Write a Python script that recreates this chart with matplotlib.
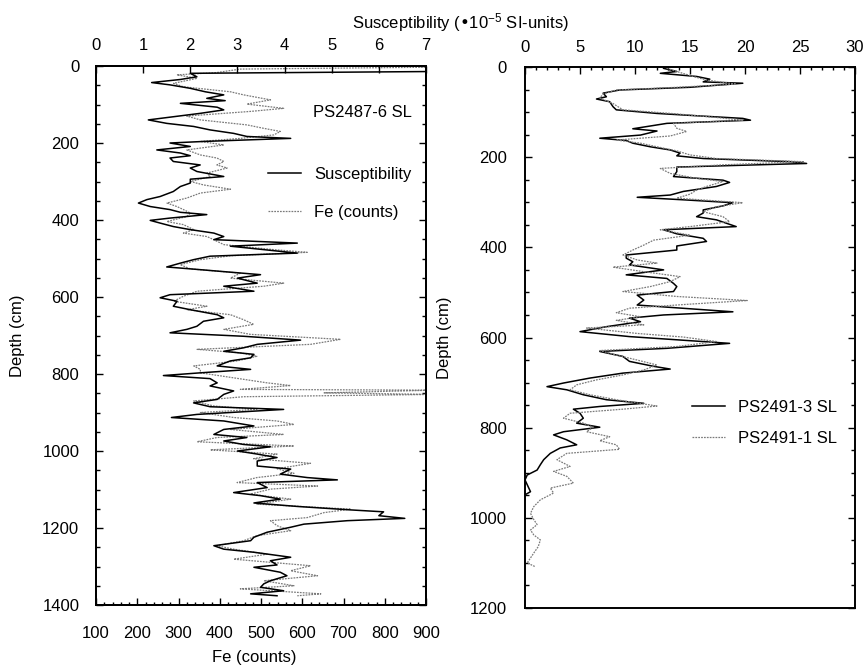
import matplotlib
matplotlib.use("Agg")
import matplotlib.pyplot as plt
from matplotlib.ticker import MultipleLocator

plt.rcParams['font.family'] = ['Liberation Sans', 'DejaVu Sans']
plt.rcParams['font.size'] = 12
plt.rcParams['mathtext.default'] = 'regular'

# ---- Core PS2487-6 SL: magnetic susceptibility (1e-5 SI) vs depth (cm)
sus_depth = [2, 14, 19, 28, 35, 43, 49, 58, 67, 75,
             84, 90, 97, 107, 114, 123, 133, 140, 149, 157,
             166, 175, 183, 188, 196, 200, 209, 218, 226, 233,
             239, 248, 257, 265, 274, 287, 294, 304, 313, 326,
             339, 347, 356, 365, 373, 380, 386, 395, 401, 408,
             417, 425, 434, 443, 451, 460, 468, 477, 486, 494,
             503, 512, 522, 529, 542, 551, 564, 572, 585, 594,
             602, 611, 624, 633, 646, 654, 663,
             676, 684, 693, 702, 712, 723, 732, 741, 749, 758,
             766, 779, 788, 797, 804, 812, 823, 831, 844, 853,
             866, 875, 885, 892, 905, 913, 922, 935, 944, 957,
             965, 974, 983, 989, 1000, 1008, 1017, 1026, 1039, 1047,
             1060, 1069, 1075, 1082, 1095, 1108, 1116, 1125, 1135, 1144,
             1153, 1158, 1168, 1175, 1181, 1190, 1198, 1211, 1224, 1233,
             1246, 1255, 1263, 1276, 1285, 1296, 1302, 1315, 1324, 1337,
             1345, 1354, 1363, 1371, 1376]
sus_value = [7.5, 7.5, 2.0, 2.14, 1.79, 1.18, 1.57, 2.0, 2.32, 2.71,
             2.35, 2.74, 1.79, 2.57, 2.71, 2.21, 1.57, 1.11, 1.50, 2.07,
             2.42, 2.92, 3.2, 4.13, 2.28, 1.57, 2.0, 1.29, 1.79, 2.0,
             1.57, 1.64, 2.21, 2.0, 2.14, 2.71, 2.0, 2.0, 1.79, 1.64,
             1.36, 1.08, 0.9, 1.15, 1.57, 1.79, 2.35, 1.57, 1.15, 1.36,
             1.64, 2.0, 2.5, 2.71, 2.5, 4.27, 2.85, 3.56, 4.27, 2.42,
             2.07, 1.79, 1.5, 2.21, 3.49, 3.0, 3.42, 2.71, 3.35, 1.57,
             1.36, 1.72, 1.64, 2.0, 2.57, 2.71, 2.28,
             2.14, 1.93, 1.57, 3.13, 4.34, 3.42, 3.13, 2.71, 3.35, 3.28,
             2.85, 2.57, 3.28, 2.21, 1.43, 2.42, 2.57, 2.42, 2.92, 2.71,
             2.57, 2.07, 2.42, 3.98, 2.14, 1.6, 2.71, 3.35, 2.71, 2.5,
             3.2, 2.71, 3.13, 3.7, 3.0, 3.42, 3.84, 3.42, 3.42, 4.13,
             3.91, 4.48, 5.12, 3.42, 3.63, 2.92, 3.49, 3.91, 3.35, 4.27,
             5.4, 6.1, 6.0, 6.55, 5.33, 4.41, 4.13, 3.63, 3.35, 3.28,
             2.5, 2.71, 3.35, 4.13, 3.7, 3.84, 3.35, 3.91, 4.05, 3.7,
             3.56, 3.49, 3.98, 3.28, 3.84]

# ---- Core PS2487-6 SL: XRF iron counts vs depth (cm)
fe_depth = [3, 8, 17, 23, 32, 45, 54, 67, 75, 88,
            99, 110, 118, 130, 140, 153, 162, 170, 179, 188,
            196, 205, 218, 231, 239, 248, 257, 265, 278, 287,
            300, 309, 320, 330, 343, 356, 365, 373, 382, 391,
            404, 412, 425, 434, 443, 451, 464, 477, 484, 493,
            503, 516, 527, 538, 551, 564, 572, 585, 598, 611,
            624, 633, 646, 659,
            671, 684, 697, 710, 723, 736, 745, 754, 766, 779,
            788, 797, 810, 823, 830, 840, 842, 849, 853, 859,
            870, 883, 892, 900, 913, 922, 931, 944, 957, 965,
            976, 987, 997, 1008, 1020, 1032, 1046, 1058, 1069, 1082,
            1091, 1099, 1112, 1125, 1138, 1151, 1160, 1173, 1181, 1194,
            1207, 1220, 1233, 1246, 1255, 1268, 1281, 1298, 1311, 1324,
            1337, 1350, 1358, 1371, 1376]
fe_counts = [920, 450, 393, 296, 345, 288, 312, 426, 458, 523,
             466, 555, 474, 320, 353, 466, 507, 547, 531, 450,
             353, 410, 320, 353, 393, 410, 393, 418, 369, 377,
             329, 361, 426, 353, 320, 272, 296, 312, 329, 320,
             272, 312, 337, 312, 369, 385, 410, 531, 612, 426,
             353, 304, 329, 450, 426, 555, 507, 345, 312, 288,
             369, 320, 426, 458,
             482, 410, 474, 693, 620, 345, 450, 490, 442, 337,
             353, 353, 434, 515, 572, 450, 920, 653, 920, 458,
             337, 385, 490, 353, 434, 539, 580, 426, 555, 393,
             345, 580, 377, 539, 482, 620, 539, 580, 490, 442,
             637, 523, 474, 572, 490, 718, 653, 612, 523, 539,
             572, 490, 458, 393, 434, 515, 434, 620, 572, 637,
             507, 580, 450, 645, 588]

# ---- Core PS2491-3 SL: susceptibility vs depth
ps3_depth = [3, 10, 14, 21, 27, 33, 36, 45, 51, 58,
             66, 71, 77, 88, 95, 103, 109, 114, 118, 125,
             132, 137, 142, 151, 158, 163, 169, 177, 184, 191,
             197, 203, 210, 214, 217, 222, 232, 243, 251, 256,
             265, 276, 284, 289, 295, 301, 308, 317, 324, 332,
             339, 354, 361, 370, 380, 387, 397, 406, 417, 424,
             432, 439, 450, 461, 469, 480, 487, 498, 506, 517,
             528, 543, 550, 557,
             565, 576, 587, 598, 613, 624, 631, 642, 653, 664,
             670, 679, 690, 701, 709, 716, 727, 738, 746, 753,
             759, 768, 779, 790, 799, 809, 816, 827, 838, 845,
             857, 871, 882, 894, 905, 916, 942, 949, 960]
ps3_sus = [12.6, 13.8, 12.3, 15.6, 16.8, 16.2, 19.8, 15.0, 8.6, 7.1,
           7.4, 6.5, 7.7, 8.0, 8.3, 12.0, 16.2, 19.8, 20.5, 12.9,
           11.1, 9.8, 12.0, 10.5, 6.8, 9.2, 9.8, 11.4, 13.2, 14.1,
           13.8, 16.2, 24.1, 25.6, 21.1, 13.8, 13.8, 13.5, 18.0, 18.6,
           17.4, 14.4, 13.2, 10.2, 14.7, 18.9, 18.0, 16.2, 16.2, 15.6,
           17.4, 19.2, 12.6, 13.8, 16.2, 16.5, 13.8, 13.8, 9.2, 9.2,
           9.8, 9.5, 12.6, 9.2, 12.9, 13.5, 13.8, 13.5, 10.2, 10.8,
           10.2, 18.9, 12.6, 9.5,
           10.5, 7.4, 5.0, 9.5, 18.6, 12.9, 6.8, 8.9, 9.5, 11.7,
           13.2, 8.9, 5.9, 3.5, 2.0, 3.8, 5.3, 7.4, 10.8, 6.8,
           4.4, 5.0, 5.3, 4.7, 6.8, 3.5, 2.6, 3.8, 4.7, 3.2,
           2.3, 1.7, 1.4, 1.1, 0.2, 0.0, 0.5, 0.0, 0.0]

# ---- Core PS2491-1 SL: susceptibility vs depth
ps1_depth = [3, 10, 21, 29, 38, 45, 51, 60, 69, 81,
             95, 104, 112, 118, 125, 136, 143, 153, 162, 169,
             177, 186, 195, 203, 210, 217, 225, 236, 247, 254,
             265, 273, 282, 291, 301, 310, 321, 332, 343, 354,
             361, 373, 384, 395, 406, 417, 428, 435, 444, 454,
             465, 476, 487, 498, 509, 518, 526, 535, 545, 554,
             562,
             572, 579, 591, 599, 609, 620, 629, 639, 650, 661,
             672, 683, 694, 705, 716, 727, 738, 752, 759, 768,
             779, 790, 799, 809, 820, 829, 838, 848, 857, 871,
             886, 897, 908, 923, 934, 945, 960, 975, 990, 1004,
             1015, 1027, 1038, 1049, 1064, 1078, 1089, 1100, 1108]
ps1_sus = [12.9, 13.8, 15.3, 16.5, 19.2, 13.8, 8.3, 7.1, 6.8, 8.0,
           8.9, 13.8, 17.4, 19.8, 13.5, 13.8, 14.7, 13.2, 8.3, 10.5,
           12.0, 13.8, 15.0, 17.4, 25.3, 18.0, 12.3, 13.2, 15.6, 18.0,
           16.5, 15.6, 15.0, 13.8, 19.8, 17.4, 16.2, 18.0, 18.6, 15.0,
           12.3, 15.0, 11.7, 10.8, 9.8, 8.9, 10.2, 12.0, 8.0, 10.8,
           14.1, 13.2, 11.4, 8.9, 13.8, 20.2, 15.0, 9.5, 8.3, 10.5,
           8.3,
           10.8, 5.6, 10.2, 14.4, 17.4, 13.8, 6.8, 8.3, 10.2, 12.0,
           10.8, 8.9, 6.5, 4.7, 4.1, 5.9, 8.3, 12.0, 8.9, 4.1,
           3.5, 5.3, 6.2, 5.6, 7.7, 6.8, 8.3, 8.6, 3.8, 2.9,
           4.1, 2.6, 3.8, 4.4, 2.3, 2.6, 1.4, 0.8, 0.5, 0.8,
           1.1, 0.5, 0.8, 1.4, 1.2, 0.8, 0.5, 0.2, 0.9]

SOLID = dict(color='black', lw=1.1)
DOTTED = dict(color='#7a7a7a', lw=0.9, ls=(0, (1.4, 0.9)))

fig = plt.figure(figsize=(8.64, 6.68), dpi=100)
W, H = 864, 668
axL = fig.add_axes([96 / W, 1 - 605 / H, 330 / W, 539 / H])
axR = fig.add_axes([525 / W, 1 - 608 / H, 330 / W, 541 / H])

for ax in (axL, axR):
    for s in ax.spines.values():
        s.set_linewidth(1.4)

# ---------------- left panel ----------------
fe_line, = axL.plot(fe_counts, fe_depth, **DOTTED)
axL.set_xlim(100, 900)
axL.set_ylim(1400, 0)
axL.xaxis.set_major_locator(MultipleLocator(100))
axL.xaxis.set_minor_locator(MultipleLocator(20))
axL.yaxis.set_major_locator(MultipleLocator(200))
axL.yaxis.set_minor_locator(MultipleLocator(50))
axL.tick_params(axis='x', which='both', direction='in', bottom=True, top=False,
                labelbottom=True, labeltop=False)
axL.tick_params(axis='x', which='major', length=5, width=1, pad=15)
axL.tick_params(axis='x', which='minor', length=2.5, width=1)
axL.tick_params(axis='y', which='both', direction='in', left=True, right=True,
                labelleft=True, labelright=False)
axL.tick_params(axis='y', which='major', length=5, width=1, pad=12)
axL.tick_params(axis='y', which='minor', length=3, width=1)
axL.set_xlabel('Fe (counts)')
axL.xaxis.set_label_coords(0.48, -0.083)
axL.set_ylabel('Depth (cm)')
axL.yaxis.set_label_coords(-0.215, 0.5)

axT = axL.twiny()
sus_line, = axT.plot(sus_value, sus_depth, **SOLID)
axT.set_xlim(0, 7)
axT.set_ylim(1400, 0)
axT.xaxis.set_major_locator(MultipleLocator(1))
axT.tick_params(axis='x', which='both', direction='in', top=True, bottom=False,
                labeltop=True, labelbottom=False, length=5, width=1, pad=9)
for s in axT.spines.values():
    s.set_linewidth(1.4)

axT.text(0.658, 0.913, 'PS2487-6 SL', transform=axT.transAxes,
         ha='left', va='center')
axT.legend([sus_line, fe_line], ['Susceptibility', 'Fe (counts)'],
           loc='upper left', bbox_to_anchor=(0.52, 0.812), frameon=False,
           borderpad=0, borderaxespad=0, handlelength=2.0,
           handletextpad=0.8, labelspacing=1.35)

# ---------------- right panel ----------------
l3, = axR.plot(ps3_sus, ps3_depth, **SOLID)
l1, = axR.plot(ps1_sus, ps1_depth, **DOTTED)
axR.set_xlim(0, 30)
axR.set_ylim(1200, 0)
axR.xaxis.tick_top()
axR.xaxis.set_major_locator(MultipleLocator(5))
axR.xaxis.set_minor_locator(MultipleLocator(1))
axR.yaxis.set_major_locator(MultipleLocator(200))
axR.yaxis.set_minor_locator(MultipleLocator(50))
axR.tick_params(axis='x', which='both', direction='in', top=True, bottom=False,
                labeltop=True, labelbottom=False)
axR.tick_params(axis='x', which='major', length=5, width=1, pad=9)
axR.tick_params(axis='x', which='minor', length=2.5, width=1)
axR.tick_params(axis='y', which='both', direction='in', left=True, right=True,
                labelleft=True, labelright=False)
axR.tick_params(axis='y', which='major', length=5, width=1, pad=13)
axR.tick_params(axis='y', which='minor', length=3, width=1)
axR.set_ylabel('Depth (cm)')
axR.yaxis.set_label_coords(-0.221, 0.5)
axR.legend([l3, l1], ['PS2491-3 SL', 'PS2491-1 SL'],
           loc='upper left', bbox_to_anchor=(0.505, 0.385), frameon=False,
           borderpad=0, borderaxespad=0, handlelength=2.0,
           handletextpad=0.8, labelspacing=0.95)

fig.text(460 / W, 1 - 23 / H, 'Susceptibility (\u202210$^{-5}$ SI-units)',
         ha='center', va='center', fontsize=12)

fig.savefig('out.png', dpi=100)
